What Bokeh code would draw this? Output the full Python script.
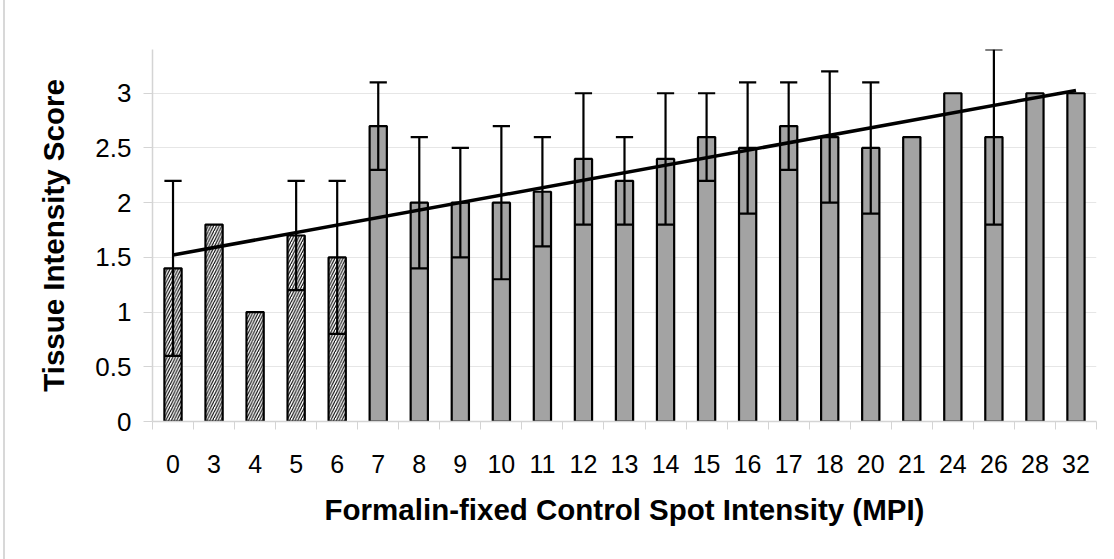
import numpy as np
from bokeh.plotting import figure
from bokeh.models import FixedTicker, Range1d
from bokeh.embed import file_html
from bokeh.resources import INLINE

# ---- data ----
categories = ["0", "3", "4", "5", "6", "7", "8", "9", "10", "11", "12", "13",
              "14", "15", "16", "17", "18", "20", "21", "24", "26", "28", "32"]
means = [1.4, 1.8, 1.0, 1.7, 1.5, 2.7, 2.0, 2.0, 2.0, 2.1, 2.4, 2.2,
         2.4, 2.6, 2.5, 2.7, 2.6, 2.5, 2.6, 3.0, 2.6, 3.0, 3.0]
err_low = [0.6, None, None, 1.2, 0.8, 2.3, 1.4, 1.5, 1.3, 1.6, 1.8, 1.8,
           1.8, 2.2, 1.9, 2.3, 2.0, 1.9, None, None, 1.8, None, None]
err_high = [2.2, None, None, 2.2, 2.2, 3.1, 2.6, 2.5, 2.7, 2.6, 3.0, 2.6,
            3.0, 3.0, 3.1, 3.1, 3.2, 3.1, None, None, 3.4, None, None]
group = ["hatched"] * 5 + ["solid"] * 18
y_ticks = [0, 0.5, 1, 1.5, 2, 2.5, 3]

FONT = "Liberation Sans"
BAR_W = 0.42

idx = list(range(len(categories)))

p = figure(width=1109, height=559, output_backend="svg", toolbar_location=None,
           x_range=Range1d(-0.5, len(categories) - 0.5), y_range=Range1d(0, 3.4),
           min_border_left=147, min_border_right=18, min_border_top=49, min_border_bottom=138)
p.styles = {"border-left": "2px solid #d8d8d8", "margin-left": "3px"}
p.outline_line_color = None
p.background_fill_color = "white"
p.border_fill_color = "white"

# bars
hx = [i for i, g in zip(idx, group) if g == "hatched"]
hy = [m for m, g in zip(means, group) if g == "hatched"]
sx = [i for i, g in zip(idx, group) if g == "solid"]
sy = [m for m, g in zip(means, group) if g == "solid"]

p.vbar(x=hx, top=hy, bottom=0, width=BAR_W, fill_color="white",
       hatch_pattern="/", hatch_color="black", hatch_scale=5.5, hatch_weight=1.1,
       line_color="black", line_width=2.2)
p.vbar(x=sx, top=sy, bottom=0, width=BAR_W, fill_color="#a3a3a3",
       line_color="black", line_width=2.2)

# error bars
ex, elo, ehi = [], [], []
for i, lo, hi in zip(idx, err_low, err_high):
    if lo is not None and hi is not None:
        ex.append(i); elo.append(lo); ehi.append(hi)
ex = np.array(ex, dtype=float)
p.segment(x0=ex, y0=elo, x1=ex, y1=ehi, line_color="black", line_width=2.2)
p.segment(x0=ex - BAR_W / 2, y0=ehi, x1=ex + BAR_W / 2, y1=ehi, line_color="black", line_width=2.2)
p.segment(x0=ex - BAR_W / 2, y0=elo, x1=ex + BAR_W / 2, y1=elo, line_color="black", line_width=2.2)

# linear trend line fitted to the bar values
coef = np.polyfit(idx, means, 1)
tx = [idx[0], idx[-1]]
ty = [coef[0] * x + coef[1] for x in tx]
p.line(tx, ty, line_color="black", line_width=3.5)

# axes
GRID = "#e6e6e6"
AX = "#d4d4d4"
p.xgrid.grid_line_color = None
p.ygrid.grid_line_color = GRID
p.ygrid.ticker = FixedTicker(ticks=y_ticks)

p.xaxis.ticker = FixedTicker(ticks=idx, minor_ticks=[i - 0.5 for i in idx] + [idx[-1] + 0.5])
p.xaxis.major_label_overrides = {i: c for i, c in zip(idx, categories)}
p.xaxis.major_tick_line_color = None
p.xaxis.minor_tick_line_color = AX
p.xaxis.minor_tick_out = 8
p.xaxis.minor_tick_in = 0
p.xaxis.axis_line_color = AX
p.xaxis.axis_line_width = 1.5
p.xaxis.major_label_text_font = FONT
p.xaxis.major_label_text_font_size = "25px"
p.xaxis.major_label_text_color = "black"
p.xaxis.major_label_standoff = 25
p.xaxis.axis_label = "Formalin-fixed Control Spot Intensity (MPI)"
p.xaxis.axis_label_text_font = FONT
p.xaxis.axis_label_text_font_size = "29.5px"
p.xaxis.axis_label_text_font_style = "bold"
p.xaxis.axis_label_text_color = "black"
p.xaxis.axis_label_standoff = 17

p.yaxis.ticker = FixedTicker(ticks=y_ticks)
p.yaxis.major_label_overrides = {0: "0", 1: "1", 2: "2", 3: "3"}
p.yaxis.major_tick_line_color = AX
p.yaxis.major_tick_out = 9
p.yaxis.major_tick_in = 0
p.yaxis.minor_tick_line_color = None
p.yaxis.axis_line_color = AX
p.yaxis.axis_line_width = 1.5
p.yaxis.major_label_text_font = FONT
p.yaxis.major_label_text_font_size = "26px"
p.yaxis.major_label_text_color = "black"
p.yaxis.major_label_standoff = 12
p.yaxis.axis_label = "Tissue Intensity Score"
p.yaxis.axis_label_text_font = FONT
p.yaxis.axis_label_text_font_size = "29.5px"
p.yaxis.axis_label_text_font_style = "bold"
p.yaxis.axis_label_text_color = "black"
p.yaxis.axis_label_standoff = 22

open("out.html", "w").write(file_html(p, INLINE))
